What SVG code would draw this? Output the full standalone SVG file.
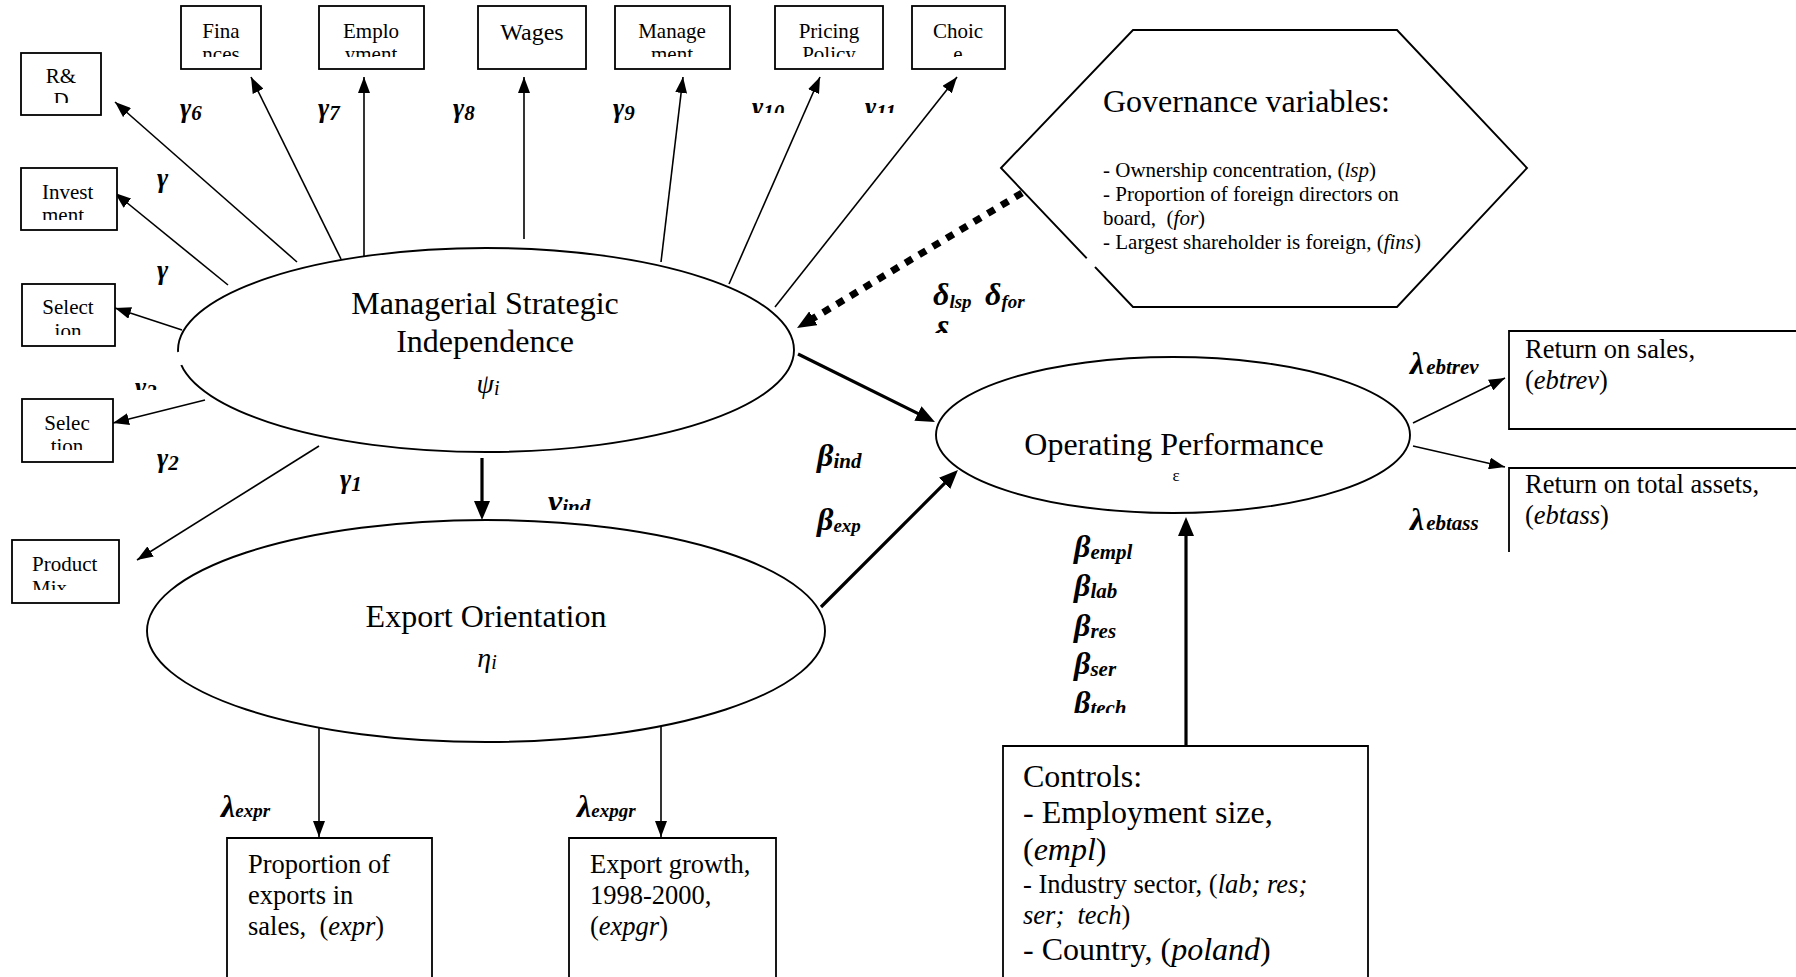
<svg xmlns="http://www.w3.org/2000/svg" width="1796" height="977" viewBox="0 0 1796 977">
<style>
text{font-family:"Liberation Serif","Times New Roman",serif;fill:#000}
.box{fill:#fff;stroke:#000;stroke-width:1.8}
.shape{fill:#fff;stroke:#000;stroke-width:1.9}
.bx{font-size:21px}
.mid{text-anchor:middle}
.big{font-size:32px}
.med{font-size:26.5px}
.sm{font-size:21px}
.it{font-style:italic}
.gl{font-size:27px;font-weight:bold;font-style:italic}
.bl{font-size:32px;font-weight:bold;font-style:italic}
.s18{font-size:19px}
.s20{font-size:21px}
.thin{stroke:#000;stroke-width:1.6;fill:none}
.thick{stroke:#000;stroke-width:3.2;fill:none}
.dot{stroke:#000;stroke-width:7;fill:none;stroke-dasharray:8 8}
</style>
<defs>
<marker id="ah" markerWidth="16" markerHeight="12" refX="16" refY="6" orient="auto" markerUnits="userSpaceOnUse"><path d="M0,0 L16,6 L0,12 z" fill="#000"/></marker>
<marker id="ahT" markerWidth="20" markerHeight="16" refX="11" refY="8" orient="auto" markerUnits="userSpaceOnUse"><path d="M0,0 L19,8 L0,16 z" fill="#000"/></marker>
<clipPath id="cRD"><rect x="21" y="53" width="80" height="50"/></clipPath>
<clipPath id="cTop"><rect x="0" y="0" width="1010" height="57"/></clipPath>
<clipPath id="cInv"><rect x="21" y="168" width="96" height="52"/></clipPath>
<clipPath id="cSel1"><rect x="22" y="284" width="93" height="51"/></clipPath>
<clipPath id="cSel2"><rect x="22" y="399" width="91" height="51"/></clipPath>
<clipPath id="cProd"><rect x="12" y="540" width="107" height="50"/></clipPath>
<clipPath id="cG10"><rect x="700" y="80" width="250" height="33"/></clipPath>
<clipPath id="cG3"><rect x="120" y="360" width="60" height="30"/></clipPath>
<clipPath id="cNu"><rect x="530" y="480" width="100" height="30"/></clipPath>
<clipPath id="cDel"><rect x="920" y="316" width="60" height="17"/></clipPath>
<clipPath id="cBt"><rect x="1060" y="680" width="100" height="33"/></clipPath>
</defs>
<rect width="1796" height="977" fill="#fff"/>

<g id="connectors">
<line class="thin" x1="297" y1="262" x2="115" y2="102" marker-end="url(#ah)"/>
<line class="thin" x1="228" y1="285" x2="115" y2="193" marker-end="url(#ah)"/>
<line class="thin" x1="341" y1="259" x2="251" y2="77" marker-end="url(#ah)"/>
<line class="thin" x1="364" y1="262" x2="364" y2="77" marker-end="url(#ah)"/>
<line class="thin" x1="524" y1="239" x2="524" y2="77" marker-end="url(#ah)"/>
<line class="thin" x1="661" y1="262" x2="683" y2="77" marker-end="url(#ah)"/>
<line class="thin" x1="729" y1="284" x2="820" y2="77" marker-end="url(#ah)"/>
<line class="thin" x1="775" y1="307" x2="957" y2="77" marker-end="url(#ah)"/>
<line class="thin" x1="182" y1="330" x2="115" y2="308" marker-end="url(#ah)"/>
<line class="thin" x1="205" y1="400" x2="113" y2="423" marker-end="url(#ah)"/>
<line class="thin" x1="319" y1="446" x2="137" y2="560" marker-end="url(#ah)"/>
<line class="thin" x1="319" y1="723" x2="319" y2="837" marker-end="url(#ah)"/>
<line class="thin" x1="661" y1="723" x2="661" y2="837" marker-end="url(#ah)"/>
<line class="thin" x1="1413" y1="423" x2="1505" y2="378" marker-end="url(#ah)"/>
<line class="thin" x1="1413" y1="446" x2="1505" y2="467" marker-end="url(#ah)"/>
<line class="thick" x1="482" y1="458" x2="482" y2="512" marker-end="url(#ahT)"/>
<line class="thick" x1="798" y1="354" x2="927.8" y2="418.4" marker-end="url(#ahT)"/>
<line class="thick" x1="821" y1="607" x2="952.3" y2="475.7" marker-end="url(#ahT)"/>
<line class="thick" x1="1186" y1="746" x2="1186" y2="525" stroke-width="3.6" marker-end="url(#ahT)"/>
<line class="dot" x1="1022" y1="193" x2="803.9" y2="323.9" marker-end="url(#ahT)"/>
</g>

<g id="rd"><rect class="box" x="21" y="53" width="80" height="62"/>
<g clip-path="url(#cRD)"><text class="bx mid" x="61" y="83">R&amp;</text><text class="bx mid" x="61" y="107">D</text></g></g>
<g id="investment"><rect class="box" x="21" y="168" width="96" height="62"/>
<g clip-path="url(#cInv)"><text class="bx" x="42" y="199">Invest</text><text class="bx" x="42" y="222">ment</text></g></g>
<g id="selection1"><rect class="box" x="22" y="284" width="93" height="62"/>
<g clip-path="url(#cSel1)"><text class="bx mid" x="68" y="314">Select</text><text class="bx mid" x="68" y="338">ion</text></g></g>
<g id="selection2"><rect class="box" x="22" y="399" width="91" height="63"/>
<g clip-path="url(#cSel2)"><text class="bx mid" x="67" y="430">Selec</text><text class="bx mid" x="67" y="453">tion</text></g></g>
<g id="productmix"><rect class="box" x="12" y="540" width="107" height="63"/>
<g clip-path="url(#cProd)"><text class="bx" x="32" y="571">Product</text><text class="bx" x="32" y="595">Mix</text></g></g>

<g id="finances"><rect class="box" x="181" y="6" width="80" height="63"/>
<g clip-path="url(#cTop)"><text class="bx mid" x="221" y="38">Fina</text><text class="bx mid" x="221" y="61">nces</text></g></g>
<g id="employment"><rect class="box" x="319" y="6" width="105" height="63"/>
<g clip-path="url(#cTop)"><text class="bx mid" x="371" y="38">Emplo</text><text class="bx mid" x="371" y="61">yment</text></g></g>
<g id="wages"><rect class="box" x="478" y="6" width="108" height="63"/>
<text class="mid" x="532" y="40" font-size="24">Wages</text></g>
<g id="management"><rect class="box" x="615" y="6" width="115" height="63"/>
<g clip-path="url(#cTop)"><text class="bx mid" x="672" y="38">Manage</text><text class="bx mid" x="672" y="61">ment</text></g></g>
<g id="pricing"><rect class="box" x="775" y="6" width="108" height="63"/>
<g clip-path="url(#cTop)"><text class="bx mid" x="829" y="38">Pricing</text><text class="bx mid" x="829" y="61">Policy</text></g></g>
<g id="choice"><rect class="box" x="912" y="6" width="93" height="63"/>
<g clip-path="url(#cTop)"><text class="bx mid" x="958" y="38">Choic</text><text class="bx mid" x="958" y="61">e</text></g></g>

<g id="governance">
<polygon class="shape" points="1001,168 1133,30 1397,30 1527,168 1397,307 1133,307"/>
<line x1="1087" y1="258" x2="1095" y2="267" stroke="#fff" stroke-width="5"/>
<text class="big" x="1103" y="112" font-size="31.5">Governance variables:</text>
<text class="sm" x="1103" y="177">- Ownership concentration, (<tspan class="it">lsp</tspan>)</text>
<text class="sm" x="1103" y="201">- Proportion of foreign directors on</text>
<text class="sm" x="1103" y="225">board,&#160; (<tspan class="it">for</tspan>)</text>
<text class="sm" x="1103" y="249">- Largest shareholder is foreign, (<tspan class="it">fins</tspan>)</text>
</g>

<g id="msi">
<ellipse class="shape" cx="486" cy="350" rx="308" ry="102"/>
<line x1="178" y1="352" x2="181.5" y2="365" stroke="#fff" stroke-width="5"/>
<text class="big mid" x="485" y="314">Managerial Strategic</text>
<text class="big mid" x="485" y="352">Independence</text>
<text class="it mid" x="488" y="393" font-size="28">ψ<tspan font-size="20" dy="2">i</tspan></text>
</g>

<g id="export">
<ellipse class="shape" cx="486" cy="631" rx="339" ry="111"/>
<text class="big mid" x="486" y="627">Export Orientation</text>
<text class="it mid" x="487" y="667" font-size="28">η<tspan font-size="20" dy="2">i</tspan></text>
</g>

<g id="operating">
<ellipse class="shape" cx="1173" cy="435" rx="237" ry="78"/>
<text class="big mid" x="1174" y="455">Operating Performance</text>
<text class="mid" x="1176" y="481" font-size="17">ε</text>
</g>

<g id="returnsales">
<path class="box" d="M1800,331 H1509 V429 H1800"/>
<text class="med" x="1525" y="358">Return on sales,</text>
<text class="med" x="1525" y="389">(<tspan class="it">ebtrev</tspan>)</text>
</g>
<g id="returnassets">
<path class="box" d="M1800,468 H1509 V552" fill="none"/>
<text class="med" x="1525" y="493">Return on total assets,</text>
<text class="med" x="1525" y="524">(<tspan class="it">ebtass</tspan>)</text>
</g>

<g id="proportion">
<path class="box" d="M227,980 V838 H432 V980"/>
<text class="med" x="248" y="873">Proportion of</text>
<text class="med" x="248" y="904">exports in</text>
<text class="med" x="248" y="935">sales,&#160; (<tspan class="it">expr</tspan>)</text>
</g>
<g id="growth">
<path class="box" d="M569,980 V838 H776 V980"/>
<text class="med" x="590" y="873">Export growth,</text>
<text class="med" x="590" y="904">1998-2000,</text>
<text class="med" x="590" y="935">(<tspan class="it">expgr</tspan>)</text>
</g>

<g id="controls">
<path class="box" d="M1003,980 V746 H1368 V980"/>
<text class="big" x="1023" y="787">Controls:</text>
<text class="big" x="1023" y="823">- Employment size,</text>
<text class="big" x="1023" y="860">(<tspan class="it">empl</tspan>)</text>
<text class="med" x="1023" y="893">- Industry sector, (<tspan class="it">lab; res;</tspan></text>
<text class="med it" x="1023" y="924">ser;&#160; tech<tspan font-style="normal">)</tspan></text>
<text class="big" x="1023" y="960">- Country, (<tspan class="it">poland</tspan>)</text>
</g>

<g id="labels">
<text class="gl" x="180" y="117">γ<tspan class="s20" dy="3">6</tspan></text>
<text class="gl" x="318" y="117">γ<tspan class="s20" dy="3">7</tspan></text>
<text class="gl" x="453" y="117">γ<tspan class="s20" dy="3">8</tspan></text>
<text class="gl" x="613" y="117">γ<tspan class="s20" dy="3">9</tspan></text>
<g clip-path="url(#cG10)">
<text class="gl" x="752" y="116">γ<tspan class="s20" dy="3">10</tspan></text>
<text class="gl" x="865" y="116">γ<tspan class="s20" dy="3">11</tspan></text>
</g>
<text class="gl" x="157" y="187">γ</text>
<text class="gl" x="157" y="279">γ</text>
<g clip-path="url(#cG3)"><text class="gl" x="135" y="396">γ<tspan class="s20" dy="3">3</tspan></text></g>
<text class="gl" x="157" y="467">γ<tspan class="s20" dy="3">2</tspan></text>
<text class="gl" x="340" y="488">γ<tspan class="s20" dy="3">1</tspan></text>
<g clip-path="url(#cNu)"><text class="bl" x="548" y="512">ν<tspan class="s20" dy="2">ind</tspan></text></g>
<text class="bl" x="933" y="305">δ<tspan class="s18" dy="3">lsp</tspan></text>
<text class="bl" x="985" y="305">δ<tspan class="s18" dy="3">for</tspan></text>
<g clip-path="url(#cDel)"><text class="bl" x="933" y="343">δ</text></g>
<text class="bl" x="817" y="466">β<tspan class="s20" dy="2">ind</tspan></text>
<text class="bl" x="817" y="530">β<tspan class="s18" dy="2">exp</tspan></text>
<text class="bl" x="1074" y="557">β<tspan class="s20" dy="2">empl</tspan></text>
<text class="bl" x="1074" y="596">β<tspan class="s20" dy="2">lab</tspan></text>
<text class="bl" x="1074" y="636">β<tspan class="s20" dy="2">res</tspan></text>
<text class="bl" x="1074" y="674">β<tspan class="s20" dy="2">ser</tspan></text>
<g clip-path="url(#cBt)"><text class="bl" x="1074" y="713">β<tspan class="s20" dy="2">tech</tspan></text></g>
<text class="bl" x="221" y="817" font-size="20">λ<tspan font-size="19">expr</tspan></text>
<text class="bl" x="577" y="817" font-size="20">λ<tspan font-size="19">expgr</tspan></text>
<text class="bl" x="1410" y="374" font-size="28">λ<tspan class="s20" dx="2">ebtrev</tspan></text>
<text class="bl" x="1410" y="530" font-size="28">λ<tspan class="s20" dx="2">ebtass</tspan></text>
</g>
</svg>
